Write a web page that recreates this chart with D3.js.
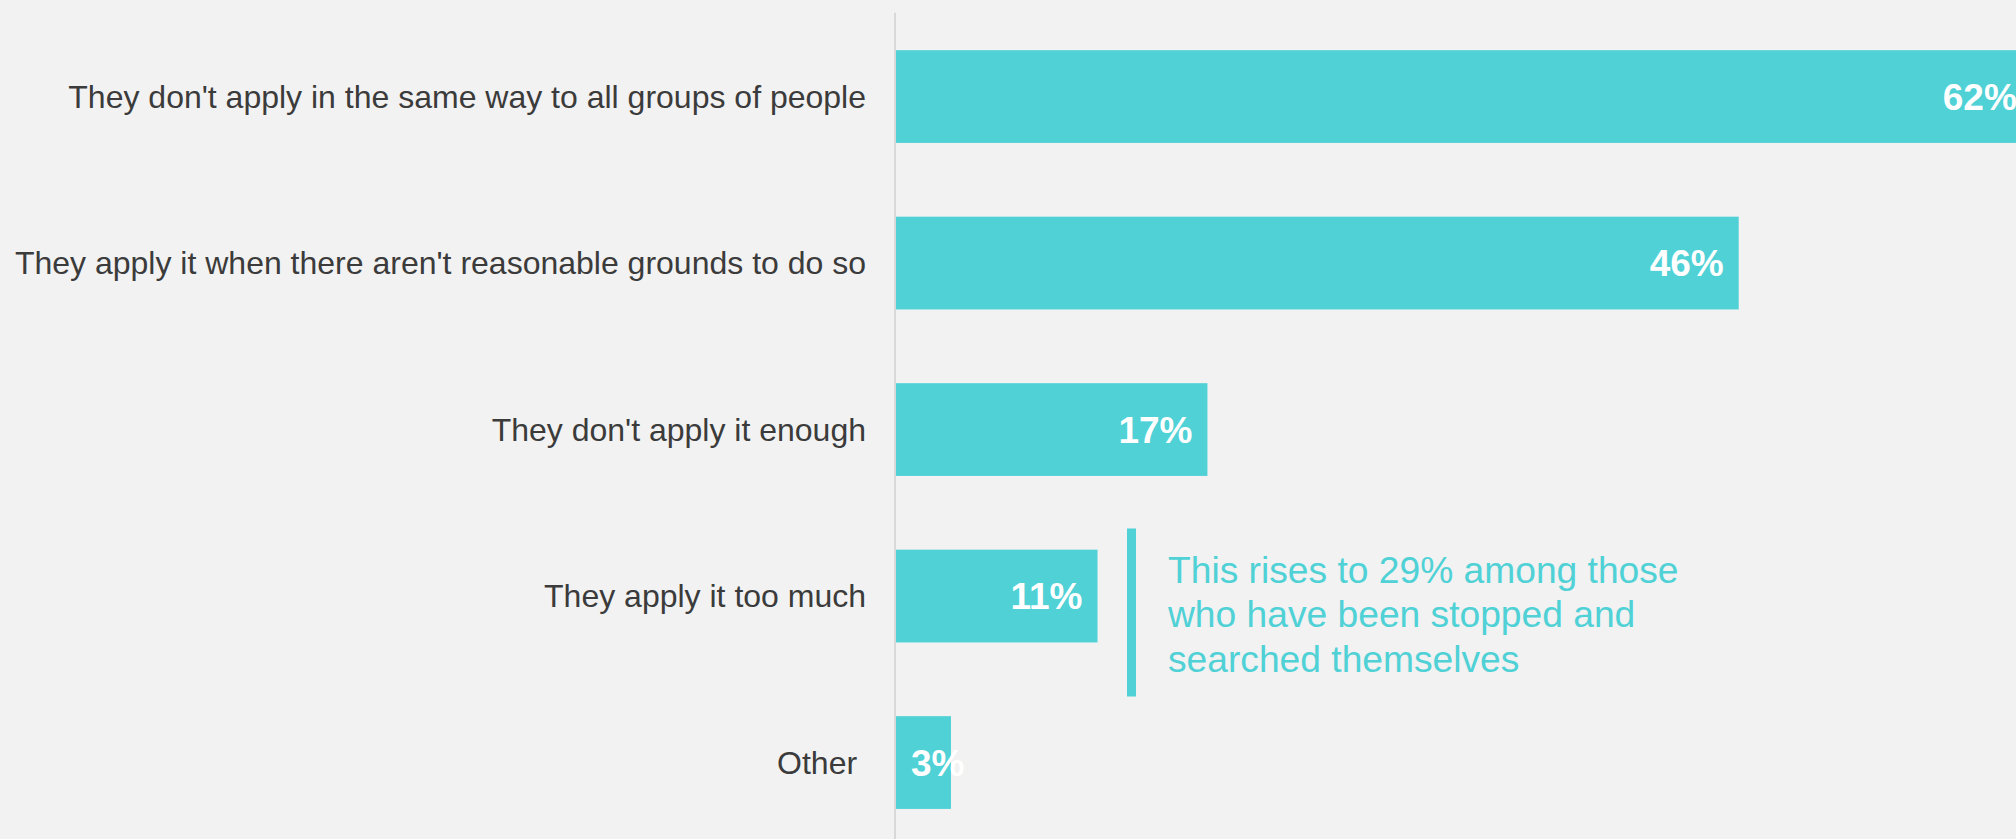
<!DOCTYPE html>
<html>
<head>
<meta charset="utf-8">
<script src="https://cdn.jsdelivr.net/npm/d3@7"></script>
<style>
  html, body { margin: 0; padding: 0; background: #f2f2f2; overflow: hidden; }
  svg { display: block; font-family: "Liberation Sans", Arial, sans-serif; }
</style>
</head>
<body>
<svg id="chart" width="2016" height="839"></svg>
<script>
const categories = [
  "They don't apply in the same way to all groups of people",
  "They apply it when there aren't reasonable grounds to do so",
  "They don't apply it enough",
  "They apply it too much",
  "Other "
];
const values = [62, 46, 17, 11, 3];
const valueLabels = ["62%", "46%", "17%", "11%", "3%"];
const annotationLines = [
  "This rises to 29% among those",
  "who have been stopped and",
  "searched themselves"
];
const annotationCategory = "They apply it too much";

const W = 2016, H = 839;
const barColor = "#4fd1d6";
const svg = d3.select("#chart");

svg.append("rect").attr("width", W).attr("height", H).attr("fill", "#f2f2f2");

const x = d3.scaleLinear().domain([0, 100]).range([896, 896 + 1832]);
const y = d3.scaleBand().domain(categories).range([13.3, 845.8])
  .paddingInner(0.443).paddingOuter(0.2215);

// axis line (category axis)
svg.append("line")
  .attr("x1", 895).attr("x2", 895)
  .attr("y1", 12.7).attr("y2", H)
  .attr("stroke", "#d9d9d9").attr("stroke-width", 2);

// bars
svg.selectAll("rect.bar").data(categories).join("rect")
  .attr("class", "bar")
  .attr("x", x(0))
  .attr("y", d => y(d))
  .attr("width", (d, i) => x(values[i]) - x(0))
  .attr("height", y.bandwidth())
  .attr("fill", barColor);

// category labels
svg.selectAll("text.cat").data(categories).join("text")
  .attr("class", "cat")
  .attr("x", 866)
  .attr("y", d => y(d) + y.bandwidth() / 2)
  .attr("dy", "0.35em")
  .attr("text-anchor", "end")
  .style("white-space", "pre")
  .attr("font-size", 32)
  .attr("fill", "#3b3b3b")
  .text(d => d);

// value labels
svg.selectAll("text.val").data(categories).join("text")
  .attr("class", "val")
  .attr("font-size", 37)
  .attr("font-weight", "bold")
  .attr("fill", "#ffffff")
  .attr("y", d => y(d) + y.bandwidth() / 2)
  .attr("dy", "0.35em")
  .text((d, i) => valueLabels[i])
  .each(function (d, i) {
    const t = d3.select(this);
    const tw = this.getComputedTextLength();
    const end = x(values[i]) - 15;
    if (end - tw < x(0) + 10) {
      t.attr("x", x(0) + 15).attr("text-anchor", "start");
    } else {
      t.attr("x", end).attr("text-anchor", "end");
    }
  });

// annotation
const ay = y(annotationCategory);
const annX = 1131.5;
svg.append("line")
  .attr("x1", annX).attr("x2", annX)
  .attr("y1", ay - 21.3).attr("y2", ay - 21.3 + 168)
  .attr("stroke", barColor).attr("stroke-width", 9);

svg.append("text")
  .attr("x", 1168)
  .attr("y", ay + 33)
  .attr("font-size", 37.2)
  .attr("fill", barColor)
  .selectAll("tspan").data(annotationLines).join("tspan")
  .attr("x", 1168)
  .attr("dy", (d, i) => i === 0 ? 0 : 44.5)
  .text(d => d);
</script>
</body>
</html>
